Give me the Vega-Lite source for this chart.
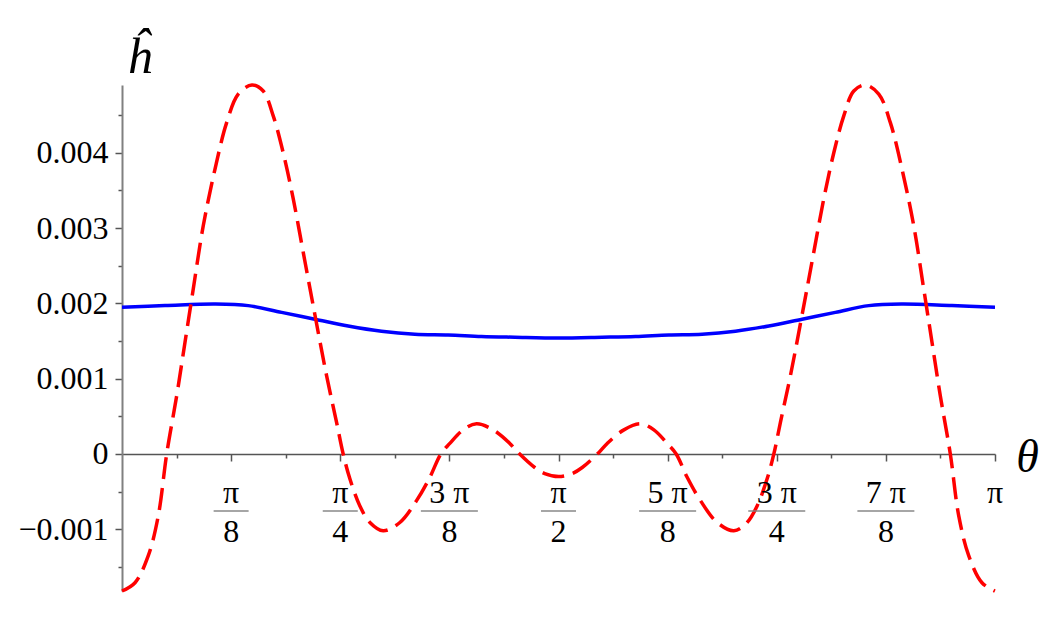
{
  "$schema": "https://vega.github.io/schema/vega-lite/v6.json",
  "width": 873,
  "height": 506,
  "autosize": {"type": "none"},
  "padding": {"left": 122, "top": 85, "right": 60, "bottom": 31},
  "background": "white",
  "config": {"view": {"stroke": null}, "font": "Liberation Serif"},
  "datasets": {
    "red": [
      {"theta": 0, "h": -0.00182}, {"theta": 0.0468, "h": -0.00171}, {"theta": 0.0946, "h": -0.00135}, {"theta": 0.1306, "h": -0.00082},
      {"theta": 0.1608, "h": 0}, {"theta": 0.1967, "h": 0.00077}, {"theta": 0.2266, "h": 0.00148}, {"theta": 0.2564, "h": 0.00219},
      {"theta": 0.2924, "h": 0.00303}, {"theta": 0.3345, "h": 0.00378}, {"theta": 0.3766, "h": 0.0044}, {"theta": 0.4183, "h": 0.00478},
      {"theta": 0.4676, "h": 0.0049}, {"theta": 0.5082, "h": 0.00482}, {"theta": 0.5442, "h": 0.00449}, {"theta": 0.5801, "h": 0.004},
      {"theta": 0.6161, "h": 0.00339}, {"theta": 0.6521, "h": 0.00268}, {"theta": 0.688, "h": 0.00197}, {"theta": 0.7362, "h": 0.00104},
      {"theta": 0.7722, "h": 0.00042}, {"theta": 0.7959, "h": 0}, {"theta": 0.82, "h": -0.00033}, {"theta": 0.856, "h": -0.00069},
      {"theta": 0.892, "h": -0.00091}, {"theta": 0.9398, "h": -0.00102}, {"theta": 0.9999, "h": -0.00091}, {"theta": 1.0599, "h": -0.00062},
      {"theta": 1.1078, "h": -0.00031}, {"theta": 1.1473, "h": 0}, {"theta": 1.1797, "h": 0.00014}, {"theta": 1.2275, "h": 0.00032},
      {"theta": 1.2757, "h": 0.0004}, {"theta": 1.3354, "h": 0.00032}, {"theta": 1.3955, "h": 0.00014}, {"theta": 1.4253, "h": 0.00002},
      {"theta": 1.4854, "h": -0.00018}, {"theta": 1.5214, "h": -0.00026}, {"theta": 1.5708, "h": -0.0003},
      {"theta": 1.6202, "h": -0.00026}, {"theta": 1.6562, "h": -0.00018}, {"theta": 1.7163, "h": 0.00002}, {"theta": 1.7461, "h": 0.00014},
      {"theta": 1.8062, "h": 0.00032}, {"theta": 1.8659, "h": 0.0004}, {"theta": 1.9141, "h": 0.00032}, {"theta": 1.9619, "h": 0.00014},
      {"theta": 1.9943, "h": 0}, {"theta": 2.0338, "h": -0.00031}, {"theta": 2.0817, "h": -0.00062}, {"theta": 2.1417, "h": -0.00091},
      {"theta": 2.2018, "h": -0.00102}, {"theta": 2.2496, "h": -0.00091}, {"theta": 2.2856, "h": -0.00069}, {"theta": 2.3216, "h": -0.00033},
      {"theta": 2.3457, "h": 0}, {"theta": 2.3694, "h": 0.00042}, {"theta": 2.4054, "h": 0.00104}, {"theta": 2.4536, "h": 0.00197},
      {"theta": 2.4895, "h": 0.00268}, {"theta": 2.5255, "h": 0.00339}, {"theta": 2.5615, "h": 0.004}, {"theta": 2.5974, "h": 0.00449},
      {"theta": 2.6334, "h": 0.00482}, {"theta": 2.674, "h": 0.0049}, {"theta": 2.7233, "h": 0.00478}, {"theta": 2.765, "h": 0.0044},
      {"theta": 2.8071, "h": 0.00378}, {"theta": 2.8492, "h": 0.00303}, {"theta": 2.8852, "h": 0.00219}, {"theta": 2.915, "h": 0.00148},
      {"theta": 2.9449, "h": 0.00077}, {"theta": 2.9808, "h": 0}, {"theta": 3.011, "h": -0.00082}, {"theta": 3.047, "h": -0.00135},
      {"theta": 3.0948, "h": -0.00171}, {"theta": 3.1416, "h": -0.00182}
    ],
    "blue": [
      {"theta": 0, "h": 0.00195}, {"theta": 0.1547, "h": 0.00197}, {"theta": 0.3345, "h": 0.00199}, {"theta": 0.4542, "h": 0.00197},
      {"theta": 0.5744, "h": 0.00188}, {"theta": 0.6941, "h": 0.00179}, {"theta": 0.8139, "h": 0.0017}, {"theta": 0.934, "h": 0.00163},
      {"theta": 1.0538, "h": 0.00159}, {"theta": 1.1736, "h": 0.00158}, {"theta": 1.2937, "h": 0.00156}, {"theta": 1.4135, "h": 0.00155},
      {"theta": 1.5708, "h": 0.00154}, {"theta": 1.7281, "h": 0.00155}, {"theta": 1.8479, "h": 0.00156}, {"theta": 1.968, "h": 0.00158},
      {"theta": 2.0878, "h": 0.00159}, {"theta": 2.2076, "h": 0.00163}, {"theta": 2.3277, "h": 0.0017}, {"theta": 2.4475, "h": 0.00179},
      {"theta": 2.5672, "h": 0.00188}, {"theta": 2.6874, "h": 0.00197}, {"theta": 2.8071, "h": 0.00199}, {"theta": 2.9869, "h": 0.00197},
      {"theta": 3.1416, "h": 0.00195}
    ],
    "labels": [
      {"theta": 0.39269908, "num": "π", "den": "8"},
      {"theta": 0.78539816, "num": "π", "den": "4"},
      {"theta": 1.17809725, "num": "3 π", "den": "8"},
      {"theta": 1.57079633, "num": "π", "den": "2"},
      {"theta": 1.96349541, "num": "5 π", "den": "8"},
      {"theta": 2.35619449, "num": "3 π", "den": "4"},
      {"theta": 2.74889357, "num": "7 π", "den": "8"},
      {"theta": 3.14159265, "num": "π", "den": ""}
    ]
  },
  "layer": [
    {
      "data": {"name": "blue"},
      "mark": {"type": "line", "color": "#0000ff", "strokeWidth": 3.5, "interpolate": "catmull-rom"},
      "encoding": {
        "x": {
          "field": "theta",
          "type": "quantitative",
          "scale": {"domain": [0, 3.14159265], "nice": false, "zero": false},
          "axis": {
            "values": [0.19634954, 0.39269908, 0.58904862, 0.78539816, 0.9817477, 1.17809725, 1.37444679, 1.57079633, 1.76714587, 1.96349541, 2.15984495, 2.35619449, 2.55254403, 2.74889357, 2.94524311, 3.14159265],
            "labels": false,
            "grid": false,
            "offset": -137,
            "domainColor": "#555555",
            "domainWidth": 1.5,
            "tickColor": "#555555",
            "tickWidth": 1.5,
            "tickSize": {"condition": {"test": "abs(datum.value*8/PI - round(datum.value*8/PI)) < 0.001", "value": 7}, "value": 4},
            "title": "θ",
            "titleFont": "Liberation Serif",
            "titleFontStyle": "italic",
            "titleFontWeight": "normal",
            "titleFontSize": 46,
            "titleColor": "black",
            "titleX": 905,
            "titleY": 3,
            "titleAlign": "center",
            "titleBaseline": "middle"
          }
        },
        "y": {
          "field": "h",
          "type": "quantitative",
          "scale": {"domain": [-0.00182, 0.0049], "nice": false, "zero": false},
          "axis": {
            "values": [-0.0015, -0.001, -0.0005, 0, 0.0005, 0.001, 0.0015, 0.002, 0.0025, 0.003, 0.0035, 0.004, 0.0045],
            "labelExpr": "abs(datum.value*1000 - round(datum.value*1000)) > 0.01 ? '' : (abs(datum.value) < 1e-9 ? '0' : (datum.value < 0 ? '−' + format(-datum.value, '.3f') : format(datum.value, '.3f')))",
            "grid": false,
            "domainColor": "#808080",
            "domainWidth": 2,
            "tickColor": "#555555",
            "tickWidth": 1.5,
            "tickSize": {"condition": {"test": "abs(datum.value*1000 - round(datum.value*1000)) < 0.01", "value": 7}, "value": 4},
            "labelFont": "Liberation Serif",
            "labelFontSize": 32,
            "labelColor": "black",
            "labelPadding": 7,
            "title": "ĥ",
            "titleAngle": 0,
            "titleFont": "Liberation Serif",
            "titleFontStyle": "italic",
            "titleFontWeight": "normal",
            "titleFontSize": 50,
            "titleColor": "black",
            "titleX": 17,
            "titleY": -13,
            "titleAlign": "center",
            "titleBaseline": "alphabetic"
          }
        }
      }
    },
    {
      "data": {"name": "red"},
      "mark": {"type": "line", "color": "#ff0000", "strokeWidth": 3.5, "strokeDash": [22, 9], "interpolate": "catmull-rom"},
      "encoding": {
        "x": {"field": "theta", "type": "quantitative"},
        "y": {"field": "h", "type": "quantitative"}
      }
    },
    {
      "data": {"name": "labels"},
      "mark": {"type": "text", "font": "Liberation Serif", "fontSize": 32, "baseline": "middle", "align": "center", "dy": 39, "color": "black"},
      "encoding": {
        "x": {"field": "theta", "type": "quantitative"},
        "y": {"datum": 0, "type": "quantitative"},
        "text": {"field": "num"}
      }
    },
    {
      "data": {"name": "labels"},
      "mark": {"type": "text", "font": "Liberation Serif", "fontSize": 32, "baseline": "middle", "align": "center", "dy": 78, "color": "black"},
      "encoding": {
        "x": {"field": "theta", "type": "quantitative"},
        "y": {"datum": 0, "type": "quantitative"},
        "text": {"field": "den"}
      }
    },
    {
      "data": {"name": "labels"},
      "transform": [{"filter": "datum.den != ''"}],
      "mark": {"type": "tick", "orient": "horizontal", "thickness": 2, "color": "#808080", "yOffset": 57},
      "encoding": {
        "x": {"field": "theta", "type": "quantitative"},
        "y": {"datum": 0, "type": "quantitative"},
        "size": {"condition": {"test": "length(datum.num) > 1", "value": 57}, "value": 35}
      }
    }
  ]
}
